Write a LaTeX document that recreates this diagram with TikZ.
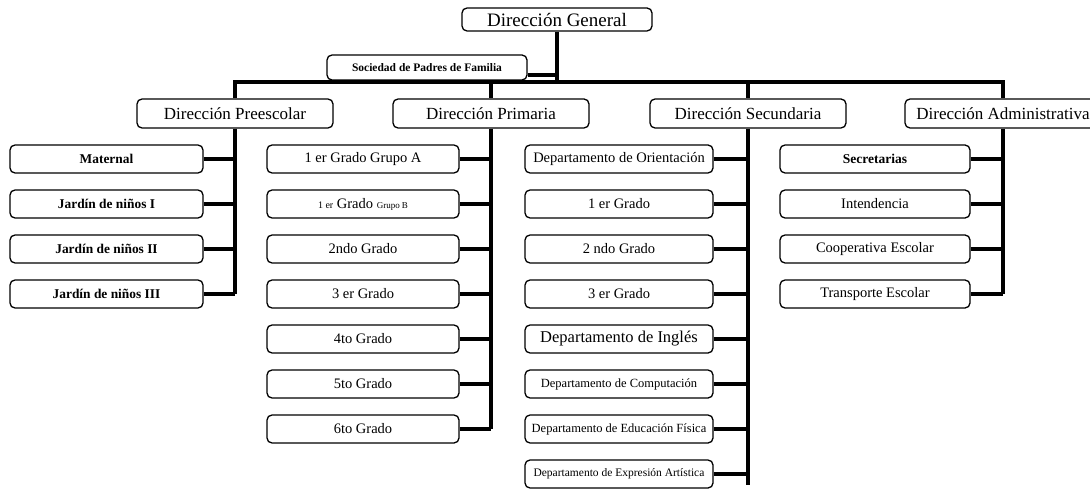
\documentclass[tikz,border=0pt]{standalone}
\usepackage{fontspec}
\setmainfont{Liberation Serif}

\begin{document}
\begin{tikzpicture}[x=1pt,y=1pt]
\tikzstyle{every node}+=[inner sep=0pt]
\tikzstyle{box}=[draw, line width=1.3pt, rounded corners=5pt, fill=white, align=center]
\tikzstyle{dirbox}=[box, minimum width=196pt, minimum height=29pt, font=\fontsize{17}{20}\selectfont]
\tikzstyle{unit}=[box, minimum height=28pt, font=\fontsize{14.5}{17}\selectfont]
\tikzstyle{boldunit}=[unit, minimum width=193pt, font=\fontsize{13.4}{16}\selectfont\bfseries]
\tikzstyle{conn}=[line width=4pt]
\useasboundingbox (0,0) rectangle (1090,-489);
\clip (0,0) rectangle (1090,-489);
\node [box, minimum width=190pt, minimum height=23pt, font=\fontsize{19}{22}\selectfont] (dg) at (557,-19.5) {Dirección General};
\node [box, minimum width=200pt, minimum height=25pt, font=\fontsize{11.5}{14}\selectfont\bfseries] (soc) at (427,-67.5) {Sociedad de Padres de Familia};
\coordinate (bar) at (0,-82);
\coordinate (socR) at ([yshift=-8pt]soc.east);
\node [dirbox] (pre) at (235,-113.5) {Dirección Preescolar};
\node [dirbox] (pri) at (491,-113.5) {Dirección Primaria};
\node [dirbox] (sec) at (748,-113.5) {Dirección Secundaria};
\node [dirbox] (adm) at (1003,-113.5) {Dirección Administrativa};
\node [boldunit] (pre1) at (106.5,-159) {Maternal};
\node [boldunit] (pre2) at (106.5,-204) {Jardín de niños I};
\node [boldunit] (pre3) at (106.5,-249) {Jardín de niños II};
\node [boldunit] (pre4) at (106.5,-294) {Jardín de niños III};
\node [unit, minimum width=192pt] (pri1) at (363,-159) {1 er Grado Grupo A};
\node [unit, minimum width=192pt] (pri2) at (363,-204) {{\fontsize{10}{12}\selectfont 1 er} Grado {\fontsize{9}{11}\selectfont Grupo B}};
\node [unit, minimum width=192pt] (pri3) at (363,-249) {2ndo Grado};
\node [unit, minimum width=192pt] (pri4) at (363,-294) {3 er Grado};
\node [unit, minimum width=192pt] (pri5) at (363,-339) {4to Grado};
\node [unit, minimum width=192pt] (pri6) at (363,-384) {5to Grado};
\node [unit, minimum width=192pt] (pri7) at (363,-429) {6to Grado};
\node [unit, minimum width=188pt] (sec1) at (619,-159) {Departamento de Orientación};
\node [unit, minimum width=188pt] (sec2) at (619,-204) {1 er Grado};
\node [unit, minimum width=188pt] (sec3) at (619,-249) {2 ndo Grado};
\node [unit, minimum width=188pt] (sec4) at (619,-294) {3 er Grado};
\node [unit, minimum width=188pt, font=\fontsize{16.5}{19}\selectfont] (sec5) at (619,-339) {Departamento de Inglés};
\node [unit, minimum width=188pt, font=\fontsize{12.5}{15}\selectfont] (sec6) at (619,-384) {Departamento de Computación};
\node [unit, minimum width=188pt, font=\fontsize{12.5}{15}\selectfont] (sec7) at (619,-429) {Departamento de Educación Física};
\node [unit, minimum width=188pt, font=\fontsize{11.5}{14}\selectfont] (sec8) at (619,-474) {Departamento de Expresión Artística};
\node [unit, minimum width=190pt, font=\fontsize{13.5}{16}\selectfont\bfseries] (adm1) at (875,-159) {Secretarias};
\node [unit, minimum width=190pt] (adm2) at (875,-204) {Intendencia};
\node [unit, minimum width=190pt] (adm3) at (875,-249) {Cooperativa Escolar};
\node [unit, minimum width=190pt] (adm4) at (875,-294) {Transporte Escolar};
\draw [conn] (dg.south) -- (dg.south |- bar);
\draw [conn] (socR) -- (socR -| dg.south);
\draw [conn] (pre.north) -- (pre.north |- bar) -| (adm.north);
\draw [conn] (pri.north |- bar) -- (pri.north);
\draw [conn] (sec.north |- bar) -- (sec.north);
\draw [conn] (pre.south) -- (pre.south |- pre4.east);
\draw [conn] (pri.south) -- (pri.south |- pri7.east);
\draw [conn] (sec.south) -- ([yshift=-11pt]sec.south |- sec8.east);
\draw [conn] (adm.south) -- (adm.south |- adm4.east);
\draw [conn] (pre1.east) -- (pre1.east -| pre.south);
\draw [conn] (pre2.east) -- (pre2.east -| pre.south);
\draw [conn] (pre3.east) -- (pre3.east -| pre.south);
\draw [conn] (pre4.east) -- (pre4.east -| pre.south);
\draw [conn] (pri1.east) -- (pri1.east -| pri.south);
\draw [conn] (pri2.east) -- (pri2.east -| pri.south);
\draw [conn] (pri3.east) -- (pri3.east -| pri.south);
\draw [conn] (pri4.east) -- (pri4.east -| pri.south);
\draw [conn] (pri5.east) -- (pri5.east -| pri.south);
\draw [conn] (pri6.east) -- (pri6.east -| pri.south);
\draw [conn] (pri7.east) -- (pri7.east -| pri.south);
\draw [conn] (sec1.east) -- (sec1.east -| sec.south);
\draw [conn] (sec2.east) -- (sec2.east -| sec.south);
\draw [conn] (sec3.east) -- (sec3.east -| sec.south);
\draw [conn] (sec4.east) -- (sec4.east -| sec.south);
\draw [conn] (sec5.east) -- (sec5.east -| sec.south);
\draw [conn] (sec6.east) -- (sec6.east -| sec.south);
\draw [conn] (sec7.east) -- (sec7.east -| sec.south);
\draw [conn] (sec8.east) -- (sec8.east -| sec.south);
\draw [conn] (adm1.east) -- (adm1.east -| adm.south);
\draw [conn] (adm2.east) -- (adm2.east -| adm.south);
\draw [conn] (adm3.east) -- (adm3.east -| adm.south);
\draw [conn] (adm4.east) -- (adm4.east -| adm.south);
\end{tikzpicture}
\end{document}
